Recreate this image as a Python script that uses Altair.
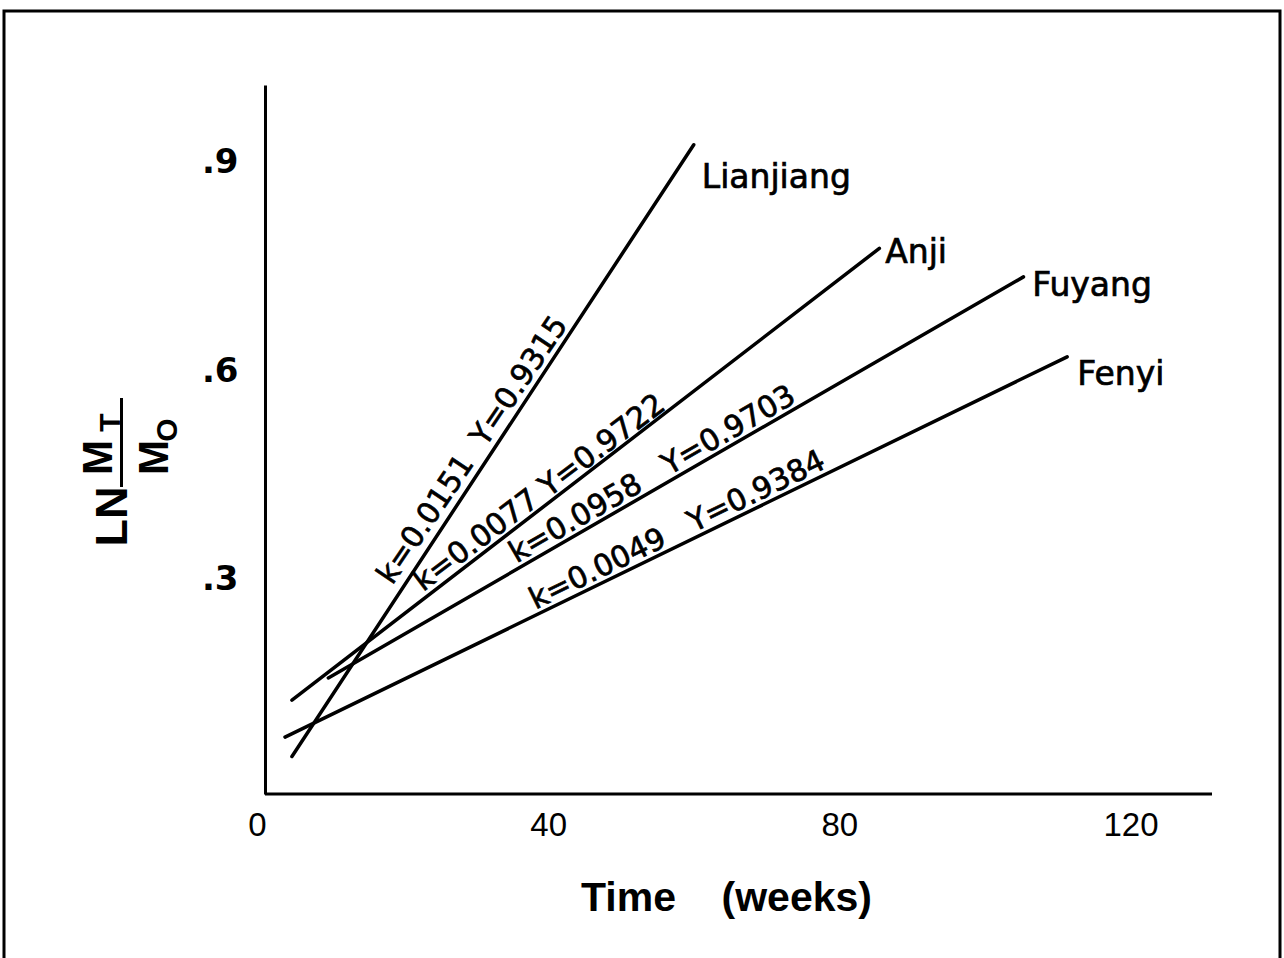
import altair as alt
import pandas as pd

# ---------------- data ----------------
series = ["Lianjiang", "Anji", "Fuyang", "Fenyi"]
x_start = [4.8, 4.8, 9.8, 3.85]
y_start = [0.046, 0.127, 0.159, 0.074]
x_end = [60.0, 85.5, 105.3, 111.3]
y_end = [0.926, 0.777, 0.736, 0.621]

name_x = [61.1, 86.3, 106.5, 112.7]
name_y = [0.864, 0.756, 0.709, 0.581]

eq_text = [
    "k=0.0151\u00a0\u00a0Y=0.9315",
    "k=0.0077\u00a0Y=0.9722",
    "k=0.0958\u00a0\u00a0\u00a0Y=0.9703",
    "k=0.0049\u00a0\u00a0\u00a0Y=0.9384",
]
eq_x = [31.6, 39.9, 55.3, 58.6]
eq_y = [0.473, 0.410, 0.434, 0.353]
eq_angle = [304, 323, 330, 334]
eq_dy = [-8, -4, -5, -5]

x_ticks = [0, 40, 80, 120]
y_ticks = [0.3, 0.6, 0.9]

# ---------------- layout ----------------
W, H = 955, 709
NARROW = "Liberation Sans"
ROUND = "DejaVu Sans"

rows = []
for s, xs, ys, xe, ye in zip(series, x_start, y_start, x_end, y_end):
    rows.append({"series": s, "x": xs, "y": ys, "o": 0})
    rows.append({"series": s, "x": xe, "y": ye, "o": 1})
lines_df = pd.DataFrame(rows)
names_df = pd.DataFrame({"x": name_x, "y": name_y, "name": series})
one = pd.DataFrame({"a": [0]})

xscale = alt.Scale(domain=[0, 131.2], nice=False, zero=False)
yscale = alt.Scale(domain=[-0.0079, 1.012], nice=False, zero=False)

x_axis = alt.Axis(
    values=x_ticks, title="Time\u00a0\u00a0\u00a0\u00a0(weeks)",
    domain=False, ticks=False, tickSize=0, grid=False, labelFlush=False,
    labelFont=NARROW, labelFontSize=33, labelColor="black", labelPadding=15,
    titleFont=NARROW, titleFontSize=41, titleFontWeight="bold", titleColor="black",
    titleX=469, titleY=116, titleBaseline="alphabetic", titleAlign="center",
)
y_axis = alt.Axis(
    values=y_ticks, title="", labelExpr="'.' + format(datum.value*10, '.0f')",
    offset=-8, domainColor="black", domainWidth=3, ticks=False, tickSize=0, grid=False,
    labelFont=ROUND, labelFontSize=34, labelFontWeight="bold", labelColor="black",
    labelPadding=27,
)

X = alt.X("x:Q", scale=xscale, axis=x_axis)
Y = alt.Y("y:Q", scale=yscale, axis=y_axis)

lines = alt.Chart(lines_df).mark_line(color="black", strokeWidth=3.5, strokeCap="round").encode(
    x=X, y=Y, detail="series:N", order="o:Q",
)

names = alt.Chart(names_df).mark_text(
    align="left", baseline="alphabetic", font=ROUND, fontSize=33, color="black",
    stroke="black", strokeWidth=0.7
).encode(x=X, y=Y, text="name:N")

eq_layers = []
for i in range(len(series)):
    df = pd.DataFrame({"x": [eq_x[i]], "y": [eq_y[i]], "t": [eq_text[i]]})
    eq_layers.append(
        alt.Chart(df).mark_text(
            angle=eq_angle[i], dy=eq_dy[i], align="center", baseline="alphabetic",
            font=ROUND, fontSize=30, color="black", stroke="black", strokeWidth=0.7
        ).encode(x=X, y=Y, text="t:N")
    )

# x axis line (starts at the y axis, slightly right of 0)
x_line = alt.Chart(one).mark_rule(color="black", strokeWidth=3).encode(
    x=alt.value(8), x2=alt.value(W), y=alt.value(H)
)

# outer frame
frame = alt.Chart(one).mark_rect(fillOpacity=0, stroke="black", strokeWidth=3).encode(
    x=alt.value(-253), x2=alt.value(1023), y=alt.value(-74), y2=alt.value(880)
)

# y-axis title: LN  M_T / M_O (rotated)
def ttext(txt, px, py, size):
    return alt.Chart(one).mark_text(
        angle=270, align="center", baseline="middle", font=NARROW,
        fontWeight="bold", fontSize=size, color="black"
    ).encode(x=alt.value(px), y=alt.value(py), text=alt.value(txt))

ln = ttext("LN", -144.5, 431.5, 45)
m_top = ttext("M", -158, 372.5, 42)
t_sub = ttext("T", -146, 337.5, 30)
m_bot = ttext("M", -102, 372.5, 42)
o_sub = ttext("O", -89.5, 345, 30)
bar = alt.Chart(one).mark_rule(color="black", strokeWidth=3).encode(
    x=alt.value(-135.5), y=alt.value(313), y2=alt.value(402)
)

chart = alt.layer(
    lines, names, *eq_layers, x_line, frame, ln, m_top, t_sub, m_bot, o_sub, bar
).properties(
    width=W, height=H,
    autosize=alt.AutoSizeParams(type="none"),
    padding={"left": 257, "top": 85, "right": 72, "bottom": 164},
    background="white",
).configure_view(strokeWidth=0)

chart.save("out.html", embed_options={"renderer": "svg", "actions": False})
